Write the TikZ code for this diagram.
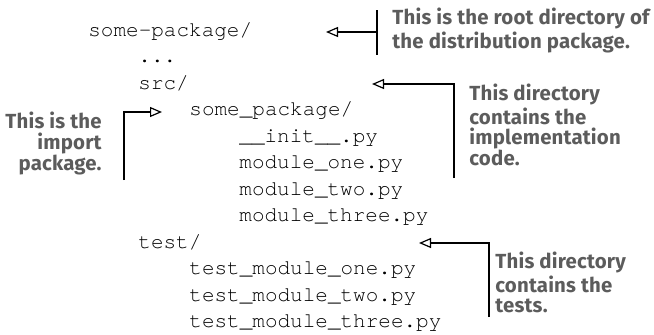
\documentclass[tikz,border=0pt]{standalone}
\usepackage{fontspec}
\setmonofont{texgyrecursor-regular.otf}
\newfontfamily\notefont[LetterSpace=1]{Fira Sans}
\usetikzlibrary{arrows.meta}
\definecolor{notegray}{HTML}{5C5C5C}
\tikzset{
  code/.style={anchor=base west,inner sep=0pt,font=\fontsize{10.5}{12}\ttfamily},
  note/.style={inner sep=0pt,text=notegray,font=\fontsize{10.2}{10.4}\notefont\bfseries},
  ptr/.style={line width=0.6pt,-{Triangle[open,length=6pt,width=5pt]}}
}

\begin{document}
\begin{tikzpicture}[x=0.5pt,y=-0.5pt]
  \useasboundingbox (0,0) rectangle (654,334);
  \node[code] (root)   at ( 88, 36.0) {some-package/};
  \node[code] (dots)   at (138, 62.5) {...};
  \node[code] (src)    at (138, 89.0) {src/};
  \node[code] (pkg)    at (189,115.5) {some\_package/};
  \node[code] (init)   at (239,142.0) {\_\_init\_\_.py};
  \node[code] (mone)   at (239,168.5) {module\_one.py};
  \node[code] (mtwo)   at (239,195.0) {module\_two.py};
  \node[code] (mthree) at (239,221.5) {module\_three.py};
  \node[code] (test)   at (138,248.0) {test/};
  \node[code] (tone)   at (189,274.5) {test\_module\_one.py};
  \node[code] (ttwo)   at (189,301.0) {test\_module\_two.py};
  \node[code] (tthree) at (189,327.5) {test\_module\_three.py};
  \node[note,anchor=north west,align=left]  (rootnote) at (392,  8) {This is the root directory of\\the distribution package.};
  \node[note,anchor=north west,align=left]  (srcnote)  at (469, 84) {This directory\\contains the\\implementation\\code.};
  \node[note,anchor=north east,align=right] (pkgnote)  at (102,112) {This is the\\import\\package.};
  \node[note,anchor=north west,align=left]  (testnote) at (495,252) {This directory\\contains the\\tests.};
  \coordinate (roottip)  at (326, 32);
  \coordinate (rootbar)  at (377, 32);
  \coordinate (srctip)   at (372, 84);
  \coordinate (srcfoot)  at (454,178);
  \coordinate (pkgtip)   at (162,112);
  \coordinate (pkgfoot)  at (124,180);
  \coordinate (testtip)  at (419,243);
  \coordinate (testfoot) at (489,317);
  \draw[line width=0.6pt] (377,10) -- (377,55);
  \draw[ptr] (rootbar) -- (roottip);
  \draw[ptr] (srcfoot) |- (srctip);
  \draw[ptr] (pkgfoot) |- (pkgtip);
  \draw[ptr] (testfoot) |- (testtip);
\end{tikzpicture}
\end{document}
